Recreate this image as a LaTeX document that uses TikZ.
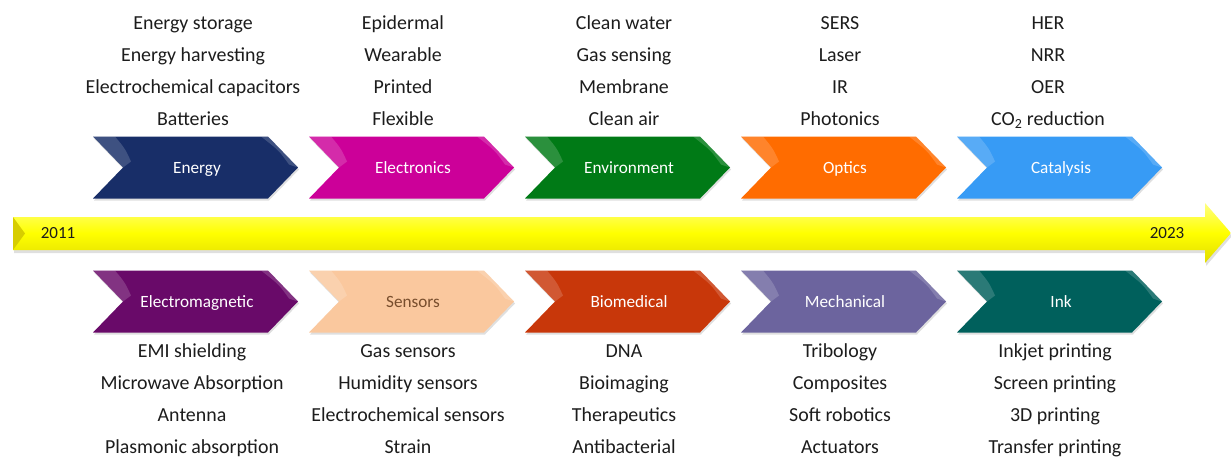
\documentclass[tikz,border=0pt]{standalone}
\usepackage{fontspec}
\setmainfont{Carlito}
\usetikzlibrary{shadows}
\definecolor{cEnergy}{RGB}{24,46,104}
\definecolor{cElectronics}{RGB}{204,0,153}
\definecolor{cEnvironment}{RGB}{0,122,22}
\definecolor{cOptics}{RGB}{255,108,0}
\definecolor{cCatalysis}{RGB}{55,155,245}
\definecolor{cEM}{RGB}{105,10,105}
\definecolor{cSensors}{RGB}{250,200,158}
\definecolor{cBio}{RGB}{200,55,10}
\definecolor{cMech}{RGB}{108,100,158}
\definecolor{cInk}{RGB}{0,96,92}
\definecolor{txt}{RGB}{28,28,28}
\definecolor{sensTxt}{RGB}{120,78,45}
\definecolor{yTop}{RGB}{255,255,130}
\definecolor{yBot}{RGB}{225,220,0}
\definecolor{yDark}{RGB}{215,205,0}
\tikzset{
  item/.style={anchor=base, inner sep=0pt, text=txt, font=\fontsize{19.9}{20}\selectfont},
  chevlabel/.style={anchor=base, inner sep=0pt, font=\fontsize{17.2}{17}\selectfont},
  year/.style={inner sep=0pt, text=txt, font=\fontsize{17}{17}\selectfont},
  chevshadow/.style={drop shadow={shadow xshift=1pt, shadow yshift=-2pt, opacity=.25}},
}
\newcommand\mychev[6]{%
  \fill[#4, chevshadow] (#2,#3) -- ++(175,0) -- ++(30,31) -- ++(-30,31) -- ++(-175,0) -- ++(30,-31) -- cycle;
  \fill[white, opacity=.17] (#2,#3) -- ++(30,31) -- ++(8,-6) .. controls (#2+32,#3+12) .. (#2+22,#3) -- cycle;
  \fill[white, opacity=.17] (#2+175,#3) -- ++(30,31) -- ++(-9,-3) .. controls (#2+186,#3+14) .. (#2+168,#3) -- cycle;
  \node[chevlabel, text=#5] (#1) at (#2+104,#3+36.5) {#6};
}
\begin{document}
\begin{tikzpicture}[x=1pt, y=-1pt]
\useasboundingbox (0,0) rectangle (1231,456);
% timeline arrow
\shade[top color=yTop, bottom color=yBot, middle color=yellow, drop shadow={shadow xshift=1pt, shadow yshift=-3pt, opacity=.25}]
  (13,217) -- (1205,217) -- (1205,203) -- (1231,233) -- (1205,263) -- (1205,250) -- (13,250) -- cycle;
\fill[yDark] (13,217) -- (25,233.5) -- (13,250) -- cycle;
\node[year] (y2011) at (58,233) {2011};
\node[year] (y2023) at (1167,233) {2023};
% top chevrons
\mychev{energy}{93}{136.5}{cEnergy}{white}{Energy}
\mychev{electronics}{309}{136.5}{cElectronics}{white}{Electronics}
\mychev{environment}{525}{136.5}{cEnvironment}{white}{Environment}
\mychev{optics}{741}{136.5}{cOptics}{white}{Optics}
\mychev{catalysis}{957}{136.5}{cCatalysis}{white}{Catalysis}
% bottom chevrons
\mychev{electromagnetic}{93}{270.5}{cEM}{white}{Electromagnetic}
\mychev{sensors}{309}{270.5}{cSensors}{sensTxt}{Sensors}
\mychev{biomedical}{525}{270.5}{cBio}{white}{Biomedical}
\mychev{mechanical}{741}{270.5}{cMech}{white}{Mechanical}
\mychev{ink}{957}{270.5}{cInk}{white}{Ink}
% top lists
\node[item] (a1) at (193,29) {Energy storage};
\node[item] (a2) at (193,61) {Energy harvesting};
\node[item] (a3) at (193,93) {Electrochemical capacitors};
\node[item] (a4) at (193,125) {Batteries};
\node[item] (b1) at (403,29) {Epidermal};
\node[item] (b2) at (403,61) {Wearable};
\node[item] (b3) at (403,93) {Printed};
\node[item] (b4) at (403,125) {Flexible};
\node[item] (c1) at (624,29) {Clean water};
\node[item] (c2) at (624,61) {Gas sensing};
\node[item] (c3) at (624,93) {Membrane};
\node[item] (c4) at (624,125) {Clean air};
\node[item] (d1) at (840,29) {SERS};
\node[item] (d2) at (840,61) {Laser};
\node[item] (d3) at (840,93) {IR};
\node[item] (d4) at (840,125) {Photonics};
\node[item] (e1) at (1048,29) {HER};
\node[item] (e2) at (1048,61) {NRR};
\node[item] (e3) at (1048,93) {OER};
\node[item] (e4) at (1048,125) {CO\textsubscript{2} reduction};
% bottom lists
\node[item] (f1) at (192,357) {EMI shielding};
\node[item] (f2) at (192,389) {Microwave Absorption};
\node[item] (f3) at (192,421) {Antenna};
\node[item] (f4) at (192,453) {Plasmonic absorption};
\node[item] (g1) at (408,357) {Gas sensors};
\node[item] (g2) at (408,389) {Humidity sensors};
\node[item] (g3) at (408,421) {Electrochemical sensors};
\node[item] (g4) at (408,453) {Strain};
\node[item] (h1) at (624,357) {DNA};
\node[item] (h2) at (624,389) {Bioimaging};
\node[item] (h3) at (624,421) {Therapeutics};
\node[item] (h4) at (624,453) {Antibacterial};
\node[item] (i1) at (840,357) {Tribology};
\node[item] (i2) at (840,389) {Composites};
\node[item] (i3) at (840,421) {Soft robotics};
\node[item] (i4) at (840,453) {Actuators};
\node[item] (j1) at (1055,357) {Inkjet printing};
\node[item] (j2) at (1055,389) {Screen printing};
\node[item] (j3) at (1055,421) {3D printing};
\node[item] (j4) at (1055,453) {Transfer printing};
\end{tikzpicture}
\end{document}
